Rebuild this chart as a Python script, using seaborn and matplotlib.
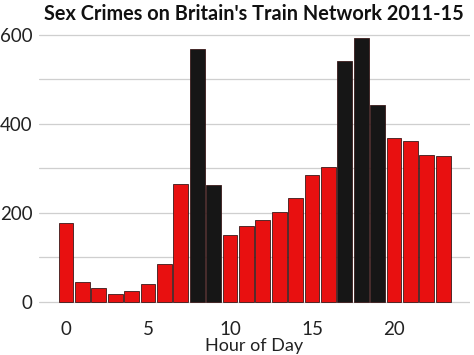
import pandas as pd
import seaborn as sns
import matplotlib.pyplot as plt

hours = list(range(24))
crimes = [178, 45, 30, 17, 25, 40, 84, 265, 568, 262, 151, 170,
          183, 201, 233, 285, 302, 542, 592, 443, 369, 362, 329, 327]
rush = [8, 9, 17, 18, 19]

df = pd.DataFrame({"Hour": hours, "Crimes": crimes})
df["Period"] = ["rush" if h in rush else "other" for h in hours]

sns.set_style("white")
plt.rcParams['font.family'] = ['Lato', 'DejaVu Sans']

fig = plt.figure(figsize=(4.74, 3.55), dpi=100)
ax = fig.add_axes([0.082, 0.113, 0.910, 0.817])

sns.barplot(data=df, x="Hour", y="Crimes", hue="Period",
            palette={"other": "#e81010", "rush": "#161616"}, saturation=1,
            native_scale=True, dodge=False, width=0.9, legend=False,
            edgecolor="#3a1a1a", linewidth=0.6, ax=ax, zorder=3)

ax.set_xlim(-1.65, 24.65)
ax.set_ylim(-29.65, 622.65)
ax.set_xticks([0, 5, 10, 15, 20])
ax.set_yticks([0, 200, 400, 600])
ax.set_yticks([100, 300, 500], minor=True)
ax.grid(axis="y", which="both", color="#cfcfcf", linewidth=0.9, zorder=0)
ax.grid(axis="x", visible=False)
for s in ax.spines.values():
    s.set_visible(False)
ax.tick_params(axis="both", which="major", length=3, color="#888888",
               labelsize=13.5, labelcolor="#222222", pad=1.5)
ax.tick_params(axis="y", which="minor", length=0)
ax.set_xlabel("Hour of Day", fontsize=13, color="#222222", labelpad=0)
ax.set_ylabel("")
fig.suptitle("Sex Crimes on Britain's Train Network 2011-15",
             x=0.535, y=0.99, fontsize=14.3, fontweight="bold", color="#111111")

fig.savefig("out.png", dpi=100)
